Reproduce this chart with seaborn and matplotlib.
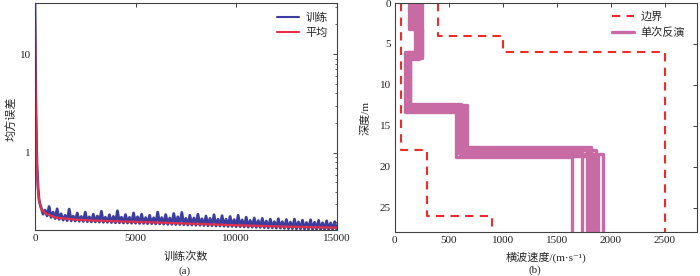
import numpy as np
import matplotlib
matplotlib.use("Agg")
import matplotlib.pyplot as plt
from matplotlib.ticker import LogLocator, NullFormatter, FixedLocator, FixedFormatter
import seaborn as sns

# ------------------------------------------------------------------
# (a) 训练误差
# ------------------------------------------------------------------
train_x_head = [0, 10, 20, 40, 60, 80, 100, 150, 200, 250]
train_head = [33, 18, 9, 3.5, 1.8, 1.1, 0.75, 0.45, 0.34, 0.30]

train_x_tail = list(range(300, 15001, 100))
train_tail = [
    0.28, 0.238, 0.262, 0.229, 0.285, 0.221, 0.25, 0.215, 0.27, 0.211,
    0.24, 0.207, 0.232, 0.205, 0.268, 0.204, 0.228, 0.203, 0.245, 0.202,
    0.226, 0.201, 0.25, 0.2, 0.224, 0.199, 0.238, 0.199, 0.228, 0.198,
    0.255, 0.197, 0.222, 0.197, 0.235, 0.196, 0.226, 0.195, 0.258, 0.195,
    0.222, 0.194, 0.236, 0.194, 0.221, 0.193, 0.245, 0.193, 0.224, 0.192,
    0.238, 0.192, 0.22, 0.191, 0.232, 0.191, 0.219, 0.19, 0.25, 0.19,
    0.22, 0.189, 0.236, 0.188, 0.218, 0.188, 0.242, 0.187, 0.224, 0.187,
    0.248, 0.186, 0.216, 0.185, 0.232, 0.185, 0.218, 0.184, 0.238, 0.184,
    0.214, 0.183, 0.228, 0.182, 0.216, 0.182, 0.235, 0.181, 0.212, 0.181,
    0.23, 0.18, 0.212, 0.179, 0.226, 0.179, 0.21, 0.178, 0.232, 0.178,
    0.208, 0.177, 0.222, 0.176, 0.206, 0.176, 0.218, 0.175, 0.205, 0.175,
    0.216, 0.174, 0.203, 0.173, 0.212, 0.173, 0.2, 0.172, 0.214, 0.172,
    0.2, 0.171, 0.21, 0.17, 0.198, 0.17, 0.212, 0.169, 0.199, 0.169,
    0.207, 0.168, 0.196, 0.168, 0.209, 0.167, 0.197, 0.167, 0.206, 0.166,
    0.195, 0.166, 0.204, 0.166, 0.194, 0.166, 0.2, 0.166,
]

avg_x = [0, 20, 40, 60, 80, 100, 150, 200, 300, 500, 1000, 2000, 3000,
         5000, 7000, 10000, 12500, 15000]
avg_y = [22, 8, 3, 1.6, 1.0, 0.7, 0.42, 0.33, 0.27, 0.245, 0.22, 0.21,
         0.205, 0.199, 0.193, 0.184, 0.178, 0.174]

# ------------------------------------------------------------------
# (b) 横波速度反演
# ------------------------------------------------------------------
lower_v = [60, 300, 900]
lower_h = [0, 18, 26, 28]
upper_v = [400, 1000, 2500]
upper_h = [0, 4, 6, 28]

# 单次反演：每个数组一列对应一次反演
v_layer1 = [135, 150, 165, 200, 215, 230, 245, 255, 185, 225]
v_layer2 = [185, 195, 210, 205, 225, 240, 250, 255, 220, 235]
v_layer3 = [92, 100, 108, 115, 122, 130, 138, 145, 105, 125]
v_layer4 = [568, 580, 595, 610, 625, 640, 655, 665, 600, 645]
v_layer5 = [1645, 1735, 1775, 1800, 1820, 1840, 1860, 1880, 1930, 1790]
h_iface1 = [3.2, 3.1, 3.2, 3.0, 3.3, 3.1, 3.2, 3.0, 3.1, 3.2]
h_iface2 = [6.0, 6.2, 6.4, 6.6, 6.8, 6.1, 6.5, 6.7, 6.3, 6.0]
h_iface3 = [13.3, 12.6, 12.9, 12.4, 13.1, 12.7, 13.0, 12.5, 13.2, 12.8]
h_iface4 = [18.8, 18.3, 17.9, 18.6, 17.6, 18.4, 18.0, 18.7, 18.5, 17.8]
max_depth = 28

BLUE = "#3d3d9e"
RED = "#e0304a"
PINK = "#c86aa4"
BOUND = "#f02a2a"
SPINE = "#404040"


def step_profile(vels, depths):
    """把分层速度展开成阶梯折线 (速度, 深度)"""
    xs, ys = [], []
    for i, v in enumerate(vels):
        xs += [v, v]
        ys += [depths[i], depths[i + 1]]
    return xs, ys


sns.set_theme(style="white")
plt.rcParams["font.family"] = ["Liberation Serif", "Noto Sans CJK SC", "DejaVu Serif"]
plt.rcParams["axes.unicode_minus"] = False

fig = plt.figure(figsize=(7, 2.76), dpi=100)
ax1 = fig.add_axes([0.05, 0.167, 0.431, 0.822])
ax2 = fig.add_axes([0.564, 0.159, 0.432, 0.830])

# ---- (a) ----
sns.lineplot(x=train_x_head + train_x_tail, y=train_head + train_tail,
             sort=False, estimator=None, color=BLUE, lw=2.0, ax=ax1, label="训练")
sns.lineplot(x=avg_x, y=avg_y, sort=False, estimator=None, color=RED,
             lw=1.6, ax=ax1, label="平均")
ax1.set_yscale("log")
ax1.set_xlim(0, 15000)
ax1.set_ylim(0.165, 33)
ax1.set_xticks([0, 5000, 10000, 15000])
ax1.set_xticklabels(["0", "5000", "10000", "15000"])
ax1.yaxis.set_major_locator(FixedLocator([1, 10]))
ax1.yaxis.set_major_formatter(FixedFormatter(["1", "10"]))
ax1.yaxis.set_minor_locator(LogLocator(base=10, subs=np.arange(2, 10)))
ax1.yaxis.set_minor_formatter(NullFormatter())
ax1.set_xlabel("训练次数", fontsize=8)
ax1.set_ylabel("均方误差", fontsize=8)
ax1.xaxis.set_label_coords(0.5, -0.092)
ax1.yaxis.set_label_coords(-0.062, 0.49)
leg1 = ax1.legend(loc="upper right", frameon=False, fontsize=8, handlelength=2.0,
                  handletextpad=0.6, labelspacing=0.45, borderaxespad=0.4)
for h in leg1.get_lines():
    h.set_linewidth(1.5)

# ---- (b) ----
bx, by = step_profile(lower_v, lower_h)
sns.lineplot(x=bx, y=by, sort=False, estimator=None, color=BOUND, lw=1.5,
             ax=ax2, label="边界")
ux, uy = step_profile(upper_v, upper_h)
sns.lineplot(x=ux, y=uy, sort=False, estimator=None, color=BOUND, lw=1.5,
             ax=ax2)
for line in ax2.get_lines():
    line.set_linestyle((0, (4, 3)))

for i in range(len(v_layer1)):
    vels = [v_layer1[i], v_layer2[i], v_layer3[i], v_layer4[i], v_layer5[i]]
    deps = [0, h_iface1[i], h_iface2[i], h_iface3[i], h_iface4[i], max_depth]
    px, py = step_profile(vels, deps)
    sns.lineplot(x=px, y=py, sort=False, estimator=None, color=PINK, lw=2.4,
                 ax=ax2, label="单次反演" if i == 0 else None)

ax2.set_xlim(0, 2800)
ax2.set_ylim(28, 0)
ax2.set_xticks([0, 500, 1000, 1500, 2000, 2500])
ax2.set_yticks([0, 5, 10, 15, 20, 25])
ax2.set_xlabel("横波速度/(m·s⁻¹)", fontsize=8)
ax2.set_ylabel("深度/m", fontsize=8)
ax2.xaxis.set_label_coords(0.5, -0.085)
ax2.yaxis.set_label_coords(-0.08, 0.5)
ax2.legend(loc="upper right", frameon=False, fontsize=8, handlelength=2.0,
           handletextpad=0.6, labelspacing=0.45, borderaxespad=0.4,
           bbox_to_anchor=(0.99, 1.0))

for ax in (ax1, ax2):
    ax.tick_params(which="both", direction="in", top=True, right=True,
                   labelsize=8, colors="#222222", pad=3)
    ax.tick_params(which="major", length=3, width=0.6)
    ax.tick_params(which="minor", length=1.8, width=0.5)
    for sp in ax.spines.values():
        sp.set_color(SPINE)
        sp.set_linewidth(0.8)
    ax.set_facecolor("white")

fig.text(0.264, 0.018, "(a)", fontsize=8, ha="center", va="center")
fig.text(0.764, 0.022, "(b)", fontsize=8, ha="center", va="center")

fig.savefig("out.png", dpi=100, facecolor="white")
